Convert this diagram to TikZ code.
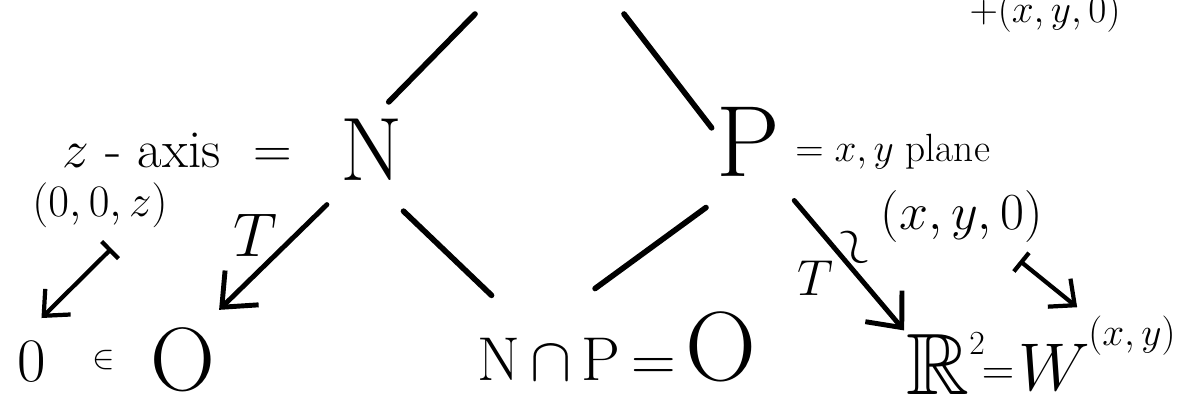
\RequirePackage{fix-cm}
\documentclass[tikz,border=0pt]{standalone}
\usepackage{amsmath,amssymb}
\usetikzlibrary{arrows.meta,positioning}
\newcommand{\fsz}[1]{\fontsize{#1}{#1}\selectfont}

\begin{document}
\begin{tikzpicture}[
  x=0.025cm, y=-0.025cm,
  stroke/.style={line width=4pt,line cap=round},
  arr/.style={line width=3.5pt,line cap=round,-{Straight Barb[length=7mm,width=12mm]}},
  maparr/.style={line width=3pt,line cap=round,{Bar[width=6mm]}-{Straight Barb[length=5mm,width=9mm]}},
  letter/.style={inner sep=0pt,font=\fsz{64}},
  lbl/.style={inner sep=0pt,font=\fsz{30}}
]
\useasboundingbox (0,0) rectangle (1180,403);
% the two subspaces
\node[letter] (N) at (372,150) {N};
\node[letter,font=\fsz{72}] (P) at (748,142) {P};
\node[lbl,font=\fsz{38},anchor=east] (zax) at (292,150) {$z$ - axis \ $=$};
\node[lbl,font=\fsz{28},anchor=west] (pln) at (795,152) {$=x,y$ plane};
\node[lbl,font=\fsz{32}] (zpt) at (100,205) {$(0,0,z)$};
\node[lbl,font=\fsz{37}] (xy0) at (962,216) {$(x,y,0)$};
\node[lbl,font=\fsz{28},anchor=base] (top) at (1045,22) {$+(x,y,0)$};
% bottom row
\node[lbl,font=\fsz{44}] (zero) at (32,362) {$0$};
\node[lbl,font=\fsz{24}] (in) at (104,360) {$\in$};
\node[letter] (O1) at (183,360) {O};
\node[lbl,font=\fsz{44},anchor=base] (cap) at (617,380) {N\,$\cap$\,P\,$=$\,{\fsz{70}O}};
\node[letter,font=\fsz{62},anchor=base west] (R2) at (906,394) {$\mathbb{R}$\raisebox{28pt}{\fsz{24}$2$}};
\node[lbl,font=\fsz{32}] (eq2) at (998,376) {$=$};
\node[letter,font=\fsz{48},anchor=base west] (W) at (1018,390) {$W$};
\node[lbl,font=\fsz{28}] (wxy) at (1132,336) {$(x,y)$};
% labels on the maps
\node[lbl,font=\fsz{44}] (T1) at (255,235) {$T$};
\node[lbl,font=\fsz{36}] (T2) at (815,278) {$T$};
\node[lbl,font=\fsz{40},rotate=-65] (iso) at (851,249) {$\sim$};
% lattice edges
\coordinate (topL) at (475,14);
\coordinate (topR) at (624,14);
\draw[stroke,shorten >=17pt] (topL) -- (N.north);
\draw[stroke,shorten >=5pt] (topR) -- (P.165);
\draw[stroke,shorten <=31pt,shorten >=16pt] (N.south) -- (cap.162);
\draw[stroke,shorten <=37pt,shorten >=27pt] (P.south) -- (cap.146);
% maps
\draw[arr,shorten <=24pt,shorten >=18pt] (N.236) -- (O1.61);
\draw[arr,shorten <=22pt,shorten >=2pt] (P.-53) -- (R2.north west);
\draw[maparr,shorten <=21pt,shorten >=24pt] (zpt.-35) -- (zero.north west);
\draw[maparr,shorten <=21pt,shorten >=10pt] (xy0.-37) -- (wxy.north west);
\end{tikzpicture}
\end{document}
